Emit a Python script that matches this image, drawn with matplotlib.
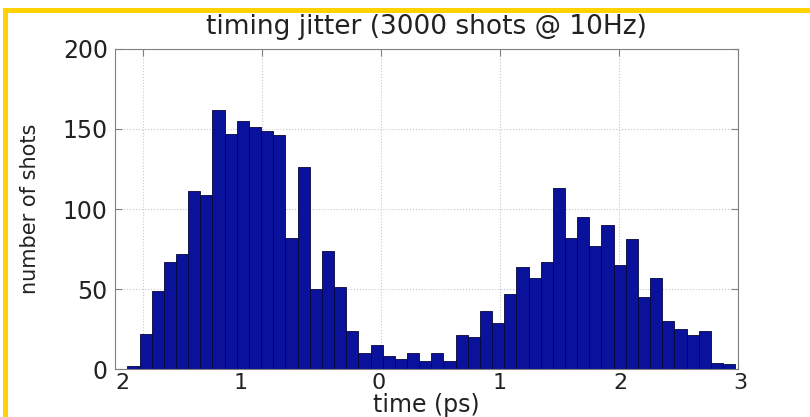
import matplotlib
matplotlib.use('Agg')
import numpy as np
import matplotlib.pyplot as plt
from matplotlib.patches import Rectangle
from matplotlib.transforms import ScaledTranslation

# histogram counts (50 bins)
counts = [2, 22, 49, 67, 72, 111, 109, 162, 147, 155,
          151, 149, 146, 82, 126, 50, 74, 51, 24, 10,
          15, 8, 6, 10, 5, 10, 5, 21, 20, 36,
          29, 47, 64, 57, 67, 113, 82, 95, 77, 90,
          65, 81, 45, 57, 30, 25, 21, 24, 4, 3]
t_min, t_max = -2.135, 2.977      # data range covered by the bins (ps)
xticks = [-2, -1, 0, 1, 2, 3]
xticklabels = ['2', '1', '0', '1', '2', '3']   # minus signs are lost in the original
yticks = [0, 50, 100, 150, 200]

edges = np.linspace(t_min, t_max, len(counts) + 1)

fig = plt.figure(figsize=(8.1, 4.17), dpi=100)
ax = fig.add_axes([0.1416, 0.1151, 0.7701, 0.7674])

ax.bar(edges[:-1], counts, width=np.diff(edges), align='edge',
       color='#0a129c', edgecolor='#02063a', linewidth=0.6, zorder=2)

ax.set_xlim(-2.242, 3.005)
ax.set_ylim(0, 200)
ax.set_xticks(xticks)
ax.set_xticklabels(xticklabels)
ax.set_yticks(yticks)
ax.grid(True, linestyle=':', color='#c8c8c8', linewidth=0.8, zorder=0)
ax.tick_params(direction='in', top=True, right=True, length=5,
               color='#808080', labelsize=17, labelcolor='#222222', pad=5)
ax.tick_params(axis='x', labelsize=16, pad=3)
for s in ax.spines.values():
    s.set_color('#808080')
    s.set_linewidth(0.8)

# labels sit a bit off their ticks in the original
shifts = [-21, -22, -3, 0, 1, 2]
for lab, dx in zip(ax.get_xticklabels(), shifts):
    lab.set_transform(lab.get_transform() + ScaledTranslation(dx / 100, 0, fig.dpi_scale_trans))

ax.set_title('timing jitter (3000 shots @ 10Hz)', fontsize=19, color='#222222', pad=11)
ax.set_xlabel('time (ps)', fontsize=17, color='#222222', labelpad=0)
ax.set_ylabel('number of shots', fontsize=15, color='#222222', labelpad=16)

# yellow frame round the slide
gold = '#ffd200'
fig.add_artist(Rectangle((3 / 810, 1 - 13 / 417), 807 / 810, 5 / 417,
                         transform=fig.transFigure, color=gold, lw=0))
fig.add_artist(Rectangle((3 / 810, 0), 5 / 810, 1 - 8 / 417,
                         transform=fig.transFigure, color=gold, lw=0))

fig.savefig('out.png', dpi=100)
